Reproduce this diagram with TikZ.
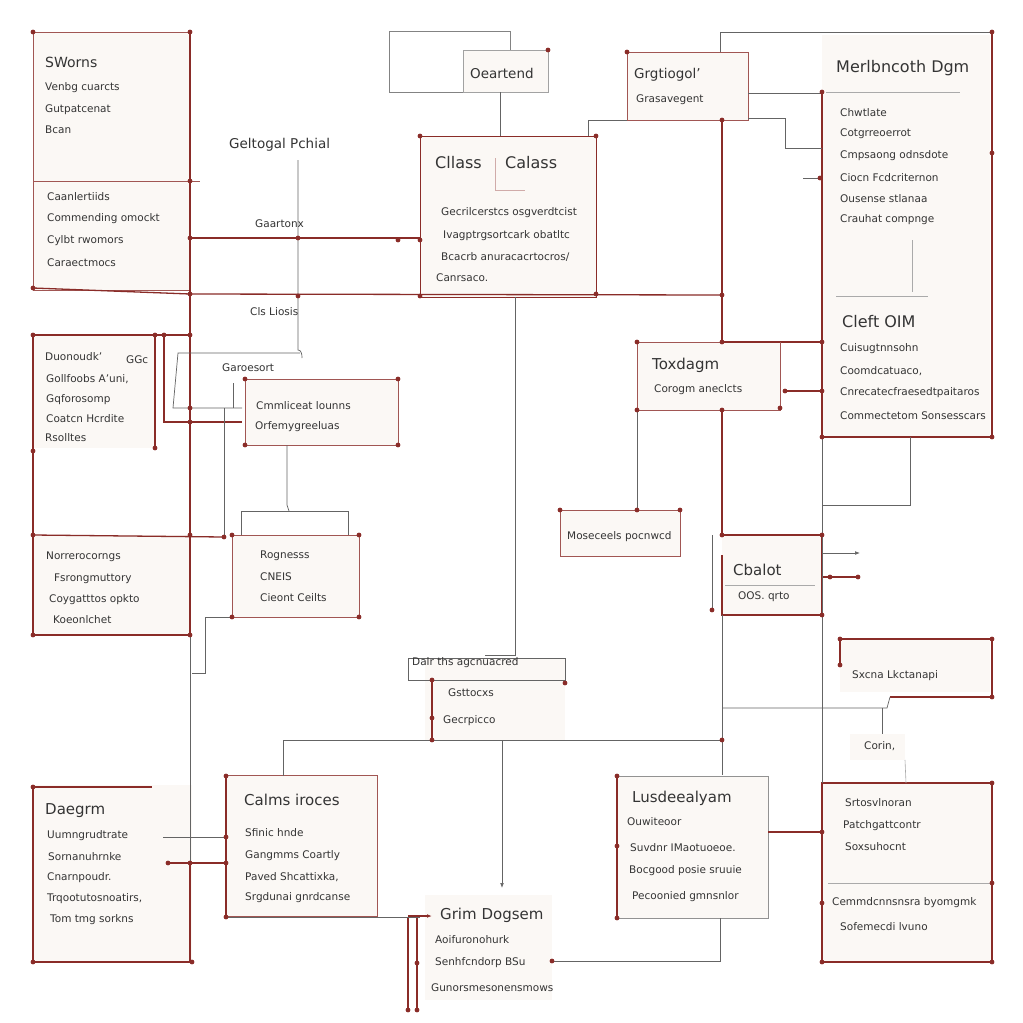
\documentclass[tikz,border=0pt]{standalone}
\usepackage{fontspec}
\setmainfont{DejaVu Sans}
\usetikzlibrary{arrows.meta}

\definecolor{boxred}{RGB}{138,44,40}
\definecolor{wiregrey}{RGB}{100,100,100}
\definecolor{paper}{RGB}{251,248,245}
\definecolor{ink}{RGB}{52,52,52}

\tikzset{
  redline/.style={draw=boxred, line width=1.3pt},
  thinred/.style={draw=boxred!80, line width=0.8pt},
  greyline/.style={draw=wiregrey, line width=0.7pt},
  paleline/.style={draw=wiregrey!55, line width=0.6pt},
  panel/.style={fill=paper, anchor=north west, inner sep=0pt},
  title/.style={anchor=west, text=ink, inner sep=0pt, font=\fontsize{16}{18}\selectfont},
  label/.style={anchor=west, text=ink, inner sep=0pt, font=\fontsize{13.5}{15}\selectfont},
  entry/.style={anchor=west, text=ink, inner sep=0pt, font=\fontsize{10.5}{12}\selectfont},
}

\begin{document}
\begin{tikzpicture}[x=1pt,y=-1pt]
\fill[white] (0,0) rectangle (1023,1023);
\useasboundingbox (0,0) rectangle (1023,1023);

% panels
\node[panel, thinred, minimum width=157pt, minimum height=258pt] (sworns) at (33,32) {};
\node[panel, fill=white, draw=wiregrey!80, minimum width=121pt, minimum height=61pt] (backbox) at (389,31) {};
\node[panel, draw=wiregrey!60, minimum width=85pt, minimum height=42pt] (oeartend) at (463,50) {};
\node[panel, redline, minimum width=176pt, minimum height=161pt] (cls) at (420,136) {};
\node[panel, thinred, minimum width=121pt, minimum height=68pt] (grgt) at (627,52) {};
\node[panel, minimum width=168pt, minimum height=402pt] (merl) at (822,35) {};
\node[panel, minimum width=122pt, minimum height=113pt] (duono) at (33,335) {};
\node[panel, thinred, minimum width=153pt, minimum height=66pt] (cmml) at (245,379) {};
\node[panel, thinred, minimum width=127pt, minimum height=82pt] (rogn) at (232,535) {};
\node[panel, minimum width=157pt, minimum height=100pt] (norr) at (33,535) {};
\node[panel, thinred, minimum width=143pt, minimum height=68pt] (toxd) at (637,342) {};
\node[panel, thinred, minimum width=120pt, minimum height=46pt] (mose) at (560,510) {};
\node[panel, minimum width=100pt, minimum height=80pt] (cbal) at (722,535) {};
\node[panel, minimum width=150pt, minimum height=52pt] (sxcna) at (840,640) {};
\node[panel, minimum width=55pt, minimum height=26pt] (corin) at (850,734) {};
\node[panel, minimum width=170pt, minimum height=179pt] (srtos) at (822,783) {};
\node[panel, minimum width=140pt, minimum height=82pt] (dalr) at (425,658) {};
\node[panel, thinred, minimum width=152pt, minimum height=141pt] (calms) at (225,775) {};
\node[panel, minimum width=159pt, minimum height=177pt] (daegrm) at (33,785) {};
\node[panel, draw=wiregrey!70, minimum width=151pt, minimum height=142pt] (lusd) at (617,776) {};
\node[panel, minimum width=127pt, minimum height=105pt] (grim) at (425,895) {};

% red wires
\draw[redline] (190,32) -- (190,636);
\draw[greyline] (190,636) -- (190,863);
\draw[redline] (190,863) -- (190,962);
\draw[thinred] (33,181) -- (200,181);
\draw[redline] (33,288) -- (190,294) -- (722,295);
\draw[redline] (190,238) -- (420,238);
\draw[redline] (722,120) -- (722,342) -- (822,342);
\draw[redline] (722,410) -- (722,535) -- (822,535) -- (822,615) -- (722,615) -- (722,555);
\draw[redline] (822,92) -- (822,437) -- (992,437) -- (992,32);
\draw[redline] (33,335) -- (190,335);
\draw[redline] (33,335) -- (33,635) -- (190,635);
\draw[redline] (155,335) -- (155,448);
\draw[redline] (33,535) -- (224,537);
\draw[redline] (164,335) -- (164,422) -- (242,422);
\draw[redline] (785,391) -- (822,391);
\draw[thinred] (780,342) -- (780,408);
\draw[redline] (822,577) -- (858,577);
\draw[redline] (840,665) -- (840,639) -- (992,639) -- (992,697) -- (890,697);
\draw[redline] (822,783) -- (992,783) -- (992,962) -- (822,962) -- cycle;
\draw[redline] (768,832) -- (822,832);
\draw[redline] (432,680) -- (432,740);
\draw[redline] (226,776) -- (226,917);
\draw[redline] (168,863) -- (226,863);
\draw[redline] (33,787) -- (152,787);
\draw[redline] (33,787) -- (33,962) -- (192,962);
\draw[redline] (408,917) -- (408,1010);
\draw[redline] (417,917) -- (417,1010);
\draw[redline, -{Latex[length=5pt]}] (408,916) -- (432,916);
\draw[redline] (617,776) -- (617,918);

% grey wires
\draw[greyline] (298,160) -- (298,350) to[out=0,in=90] (302,358);
\draw[greyline] (300,353) -- (178,353) -- (173,408) -- (242,408);
\draw[greyline] (224,408) -- (224,537);
\draw[greyline] (233,383) -- (233,408);
\draw[greyline] (287,445) -- (287,505) to[out=-90,in=90] (289,511);
\draw[greyline] (241,535) -- (241,511) -- (348,511) -- (348,535);
\draw[greyline] (232,617) -- (205,617) -- (205,673) -- (192,673);
\draw[greyline] (500,92) -- (500,136);
\draw[greyline] (515,297) -- (515,655) -- (485,655);
\draw[greyline] (408,658) -- (565,658) -- (565,680) -- (408,680) -- cycle;
\draw[greyline] (588,136) -- (588,120) -- (627,120);
\draw[greyline] (720,52) -- (720,32) -- (992,32);
\draw[greyline] (748,93) -- (822,93);
\draw[greyline] (748,118) -- (785,118) -- (785,148) -- (822,148);
\draw[greyline] (803,178) -- (820,178);
\draw[paleline] (826,92) -- (960,92);
\draw[paleline] (912,240) -- (912,292);
\draw[paleline] (836,296) -- (928,296);
\draw[greyline] (822,437) -- (822,783);
\draw[greyline] (910,437) -- (910,505) -- (822,505);
\draw[greyline] (637,410) -- (637,510);
\draw[greyline] (712,535) -- (712,612);
\draw[paleline] (725,585) -- (815,585);
\draw[greyline, -{Latex[length=5pt]}] (822,553) -- (860,553);
\draw[greyline] (722,615) -- (722,775);
\draw[greyline] (722,708) -- (887,708) -- (890,697);
\draw[greyline] (882,708) -- (882,734);
\draw[paleline] (905,760) -- (906,783);
\draw[paleline] (828,883) -- (992,883);
\draw[greyline] (283,776) -- (283,740) -- (722,740);
\draw[greyline, -{Latex[length=5pt]}] (502,740) -- (502,888);
\draw[greyline] (163,837) -- (226,837);
\draw[greyline] (226,917) -- (420,917);
\draw[greyline] (552,961) -- (720,961) -- (720,918);
\draw[boxred!40, line width=0.6pt] (495,158) -- (495,190) -- (525,190);

% junction dots
\foreach \p in {(33,32),(190,32),(190,181),(33,288),(190,294),(190,238),(398,240),(420,240),
  (420,136),(596,136),(420,296),(596,294),(548,50),(627,52),(722,120),(722,295),
  (992,32),(822,92),(992,153),(820,178),(822,437),(992,437),(298,296),(298,238),
  (33,335),(155,335),(164,335),(190,335),(33,451),(155,448),(190,408),(190,422),
  (245,379),(398,379),(245,445),(398,445),(33,635),(190,635),(33,535),(190,535),(224,537),
  (232,535),(359,535),(232,617),(359,617),(637,342),(722,342),(822,342),(637,410),(722,410),(780,408),
  (785,391),(822,391),(560,510),(680,510),(637,510),(722,535),(822,535),(822,615),(712,610),
  (830,577),(858,577),(840,639),(992,639),(992,697),(840,665),(992,783),(992,883),(992,962),
  (822,962),(822,832),(822,903),(432,680),(432,718),(432,740),(565,683),(722,740),
  (226,776),(226,917),(226,837),(226,863),(168,863),(190,863),(33,787),(33,962),(192,962),
  (408,1010),(417,1010),(417,963),(552,961),(617,776),(617,846),(617,918)}
  \fill[boxred] \p circle (2.4pt);

% texts
\node[title, font=\fontsize{14}{16}\selectfont] (swornsT) at (45,62) {SWorns};
\node[entry] (sw1) at (45,88) {Venbg cuarcts};
\node[entry] (sw2) at (45,110) {Gutpatcenat};
\node[entry] (sw3) at (45,130) {Bcan};
\node[entry] (sw4) at (47,197) {Caanlertiids};
\node[entry] (sw5) at (47,219) {Commending omockt};
\node[entry] (sw6) at (47,241) {Cylbt rwomors};
\node[entry] (sw7) at (47,263) {Caraectmocs};

\node[label] (geltT) at (229,145) {Geltogal Pchial};
\node[entry] (gaart) at (255,224) {Gaartonx};
\node[entry] (clsl) at (250,312) {Cls Liosis};
\node[entry] (garo) at (222,368) {Garoesort};

\node[label] (oeartT) at (470,73) {Oeartend};
\node[title] (clsT) at (435,163) {Cllass};
\node[title] (clsT2) at (505,163) {Calass};
\node[entry] (cl1) at (441,213) {Gecrilcerstcs osgverdtcist};
\node[entry] (cl2) at (443,236) {Ivagptrgsortcark obatltc};
\node[entry] (cl3) at (441,257) {Bcacrb anuracacrtocros/};
\node[entry] (cl4) at (436,278) {Canrsaco.};

\node[label] (grgtT) at (634,75) {Grgtiogol'};
\node[entry] (grgt1) at (636,100) {Grasavegent};

\node[title] (merlT) at (836,68) {Merlbncoth Dgm};
\node[entry] (me1) at (840,113) {Chwtlate};
\node[entry] (me2) at (840,134) {Cotgrreoerrot};
\node[entry] (me3) at (840,156) {Cmpsaong odnsdote};
\node[entry] (me4) at (840,178) {Ciocn Fcdcriternon};
\node[entry] (me5) at (840,199) {Ousense stlanaa};
\node[entry] (me6) at (840,220) {Crauhat compnge};
\node[title] (cleftT) at (842,322) {Cleft OIM};
\node[entry] (ce1) at (840,349) {Cuisugtnnsohn};
\node[entry] (ce2) at (840,371) {Coomdcatuaco,};
\node[entry] (ce3) at (840,393) {Cnrecatecfraesedtpaitaros};
\node[entry] (ce4) at (840,416) {Commectetom Sonsesscars};

\node[entry] (du1) at (45,357) {Duonoudk'};
\node[entry] (du0) at (126,360) {GGc};
\node[entry] (du2) at (46,379) {Gollfoobs A'uni,};
\node[entry] (du3) at (46,400) {Gqforosomp};
\node[entry] (du4) at (46,419) {Coatcn Hcrdite};
\node[entry] (du5) at (45,438) {Rsolltes};

\node[entry] (cm1) at (256,406) {Cmmliceat lounns};
\node[entry] (cm2) at (255,427) {Orfemygreeluas};

\node[entry] (ro1) at (260,556) {Rognesss};
\node[entry] (ro2) at (260,577) {CNEIS};
\node[entry] (ro3) at (260,598) {Cieont Ceilts};

\node[entry] (no1) at (46,557) {Norrerocorngs};
\node[entry] (no2) at (54,579) {Fsrongmuttory};
\node[entry] (no3) at (49,600) {Coygatttos opkto};
\node[entry] (no4) at (53,620) {Koeonlchet};

\node[title, font=\fontsize{15}{17}\selectfont] (toxdT) at (652,365) {Toxdagm};
\node[entry] (to1) at (654,390) {Corogm aneclcts};
\node[entry] (mo1) at (567,537) {Moseceels pocnwcd};
\node[title, font=\fontsize{15}{17}\selectfont] (cbalT) at (733,570) {Cbalot};
\node[entry] (cb1) at (738,597) {OOS. qrto};
\node[entry] (sx1) at (852,676) {Sxcna Lkctanapi};
\node[entry] (co1) at (864,746) {Corin,};

\node[entry] (sr1) at (845,803) {Srtosvlnoran};
\node[entry] (sr2) at (843,826) {Patchgattcontr};
\node[entry] (sr3) at (845,847) {Soxsuhocnt};
\node[entry] (sr4) at (832,903) {Cemmdcnnsnsra byomgmk};
\node[entry] (sr5) at (840,927) {Sofemecdi lvuno};

\node[entry] (da0) at (412,663) {Dalr ths agcnuacred};
\node[entry] (da1) at (448,693) {Gsttocxs};
\node[entry] (da2) at (443,721) {Gecrpicco};

\node[title, font=\fontsize{15}{17}\selectfont] (calT) at (244,800) {Calms iroces};
\node[entry] (ca1) at (245,833) {Sfinic hnde};
\node[entry] (ca2) at (245,856) {Gangmms Coartly};
\node[entry] (ca3) at (245,877) {Paved Shcattixka,};
\node[entry] (ca4) at (245,898) {Srgdunai gnrdcanse};

\node[title, font=\fontsize{15}{17}\selectfont] (daeT) at (45,811) {Daegrm};
\node[entry] (de1) at (47,836) {Uumngrudtrate};
\node[entry] (de2) at (48,857) {Sornanuhrnke};
\node[entry] (de3) at (47,878) {Cnarnpoudr.};
\node[entry] (de4) at (47,899) {Trqootutosnoatirs,};
\node[entry] (de5) at (50,920) {Tom tmg sorkns};

\node[title, font=\fontsize{15}{17}\selectfont] (lusT) at (632,798) {Lusdeealyam};
\node[entry] (lu1) at (627,822) {Ouwiteoor};
\node[entry] (lu2) at (630,848) {Suvdnr IMaotuoeoe.};
\node[entry] (lu3) at (629,871) {Bocgood posie sruuie};
\node[entry] (lu4) at (632,897) {Pecoonied gmnsnlor};

\node[title, font=\fontsize{15}{17}\selectfont] (grimT) at (440,915) {Grim Dogsem};
\node[entry] (gr1) at (435,940) {Aoifuronohurk};
\node[entry] (gr2) at (435,963) {Senhfcndorp BSu};
\node[entry] (gr3) at (431,988) {Gunorsmesonensmows};
\end{tikzpicture}
\end{document}
